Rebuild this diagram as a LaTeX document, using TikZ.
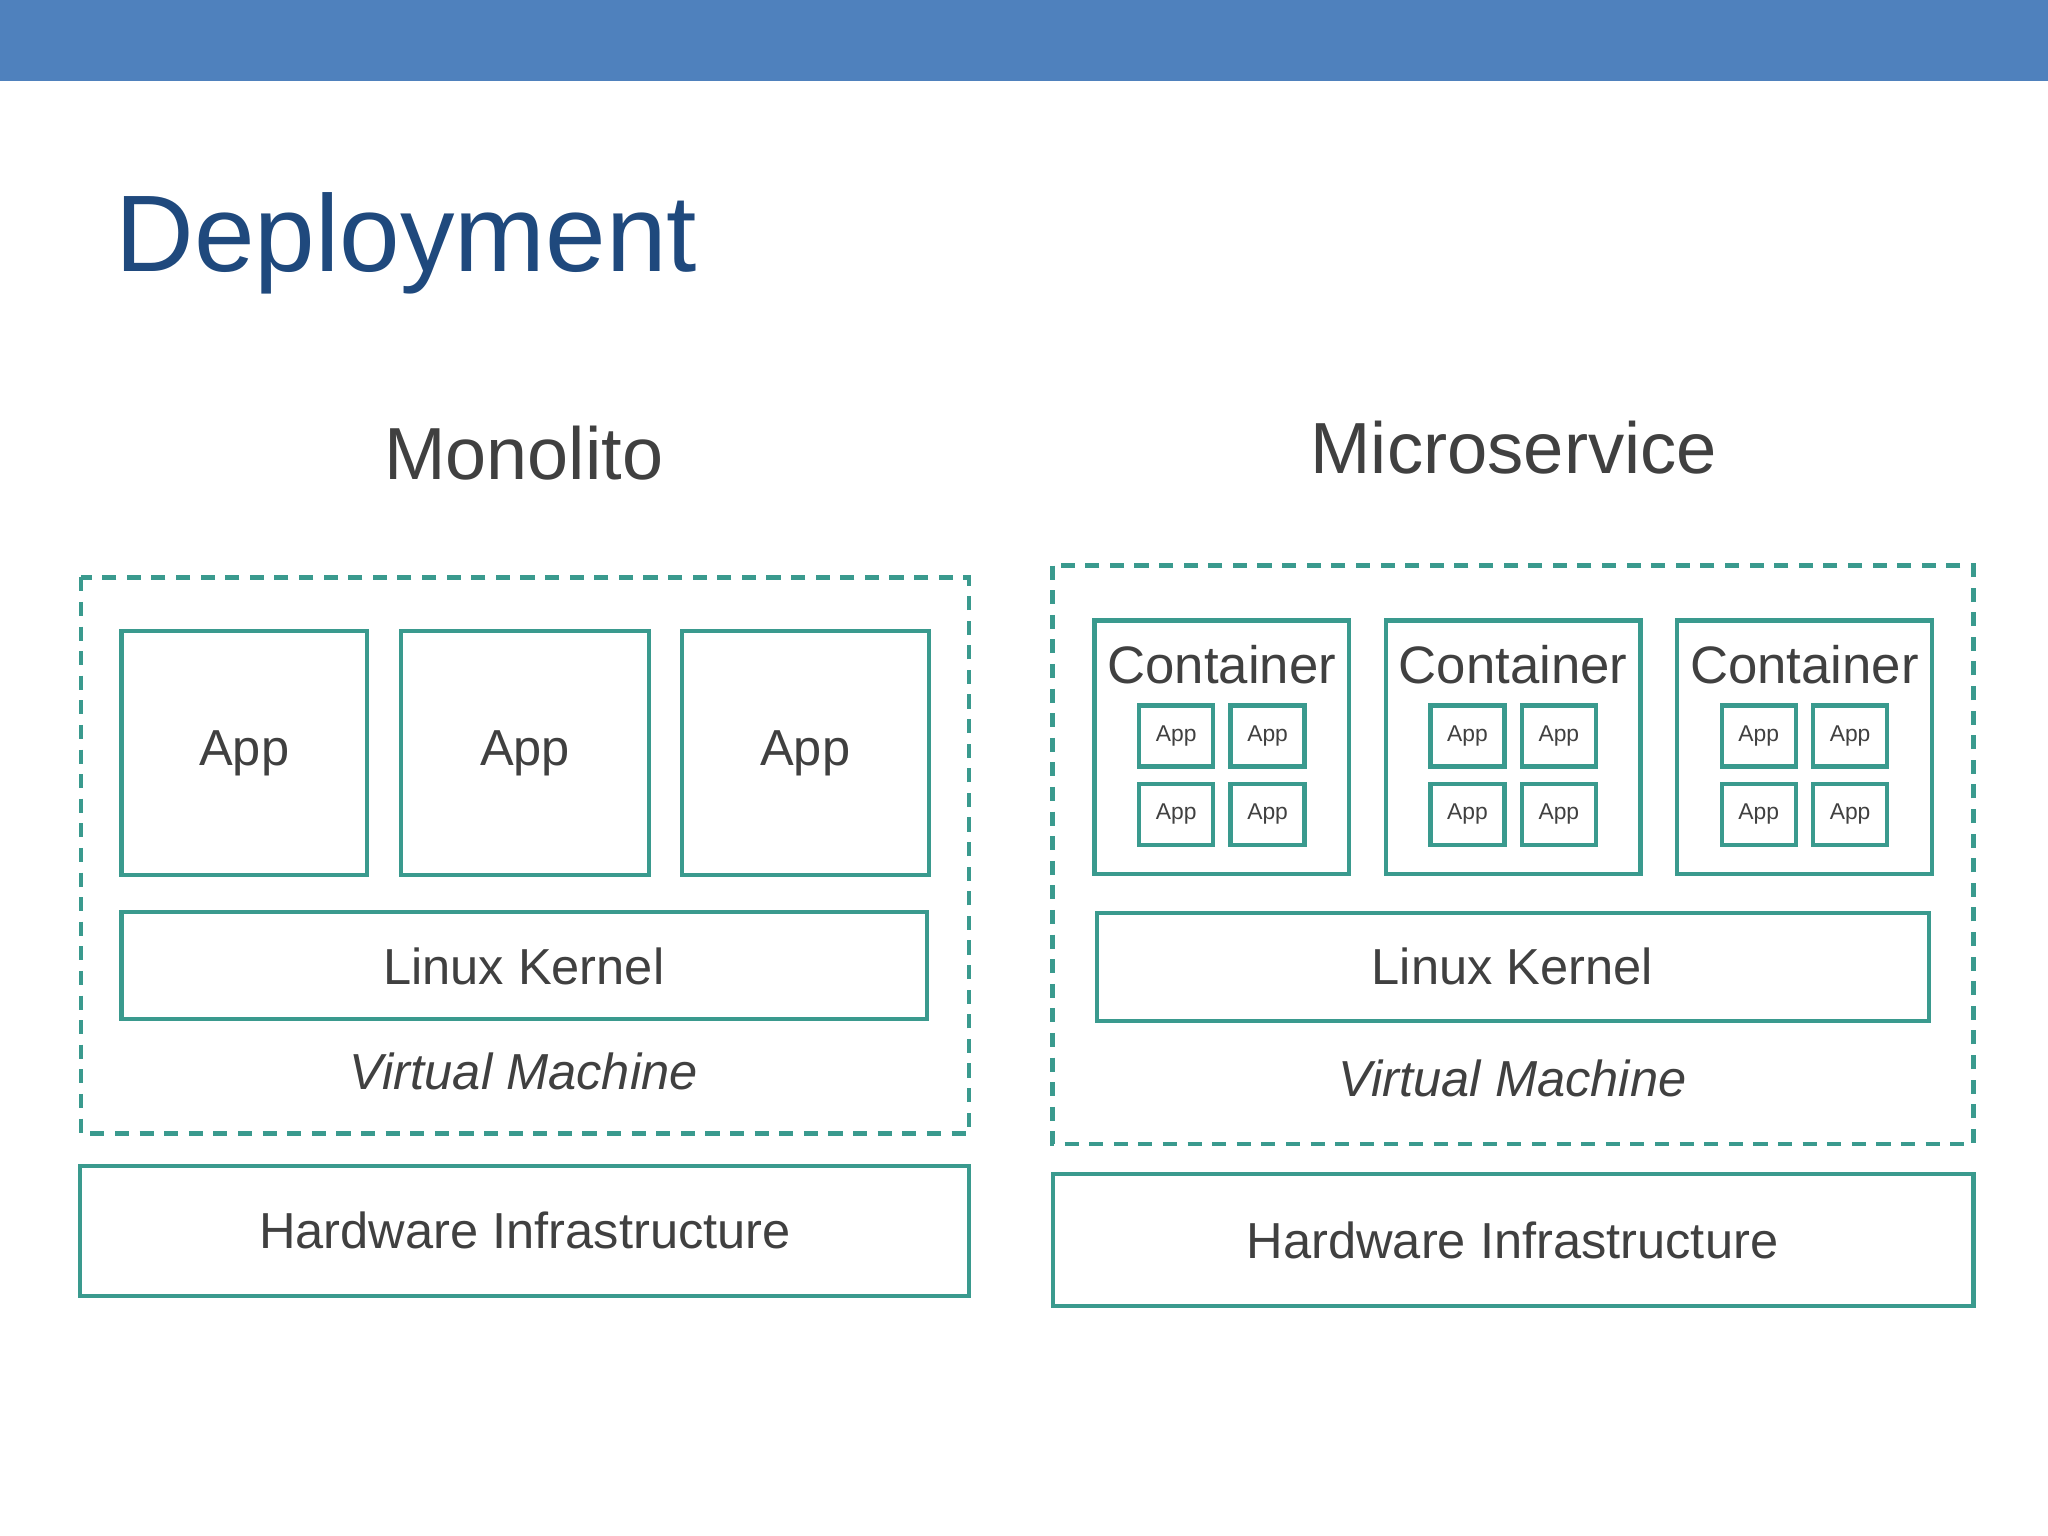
\documentclass[tikz,border=0pt]{standalone}
\usepackage{fontspec}
\setmainfont{Liberation Sans}
\definecolor{bar}{HTML}{4F81BD}
\definecolor{ttl}{HTML}{1F497D}
\definecolor{teal}{HTML}{3A9A8E}
\definecolor{txt}{HTML}{404040}
\begin{document}
\begin{tikzpicture}[x=0.01306cm,y=-0.01306cm,
  box/.style={draw=teal,line width=1.2pt},
  dbox/.style={draw=teal,line width=1.3pt,dash pattern=on 4pt off 3pt},
  lbl/.style={text=txt,font=\fontsize{14.4}{17}\selectfont},
  sm/.style={text=txt,font=\fontsize{6.5}{8}\selectfont},
  app/.style={draw=teal,line width=1.2pt,minimum width=0.74cm,minimum height=0.61cm,inner sep=0pt,sm}]
\useasboundingbox (0,0) rectangle (1568,1176);
\fill[bar] (0,0) rectangle (1568,62);
\node[anchor=base west,text=ttl,font=\fontsize{31}{36}\selectfont,inner sep=0pt] (title) at (88,208) {Deployment};
\node[text=txt,font=\fontsize{21}{25}\selectfont] (mono) at (401,347) {Monolito};
\node[text=txt,font=\fontsize{20.6}{25}\selectfont] (micro) at (1159,343) {Microservice};
% left
\draw[dbox] (62,442) rectangle (742,868);
\foreach \a/\b [count=\i] in {93/281,307/497,522/711}{
  \draw[box] (\a,483) rectangle (\b,670);
  \node[lbl] (app\i) at ({(\a+\b)/2},577) {App};}
\draw[box] (93,698) rectangle (710,780);
\node[lbl] (lk1) at (401,740) {Linux Kernel};
\node[lbl,font=\fontsize{14.4}{17}\selectfont\itshape] (vm1) at (401,820) {Virtual Machine};
\draw[box] (61,893) rectangle (742,992);
\node[lbl] (hw1) at (402,942) {Hardware Infrastructure};
% right
\draw[dbox] (806,433) rectangle (1511,876);
\foreach \o [count=\i] in {0,223,446}{
  \draw[box] (838+\o,475) rectangle (1033+\o,669);
  \node[lbl,font=\fontsize{15}{18}\selectfont] (c\i) at (935.5+\o,509) {Container};
  \foreach \dx/\dy [count=\j] in {0/0,70/0,0/60,70/60}{
    \node[app] (a\i\j) at (900.5+\o+\dx,563.5+\dy) {App};}}
\draw[box] (840,699) rectangle (1477,782);
\node[lbl] (lk2) at (1158,740) {Linux Kernel};
\node[lbl,font=\fontsize{14.4}{17}\selectfont\itshape] (vm2) at (1158,826) {Virtual Machine};
\draw[box] (806,899) rectangle (1511,1000);
\node[lbl] (hw2) at (1158,950) {Hardware Infrastructure};
\end{tikzpicture}
\end{document}
